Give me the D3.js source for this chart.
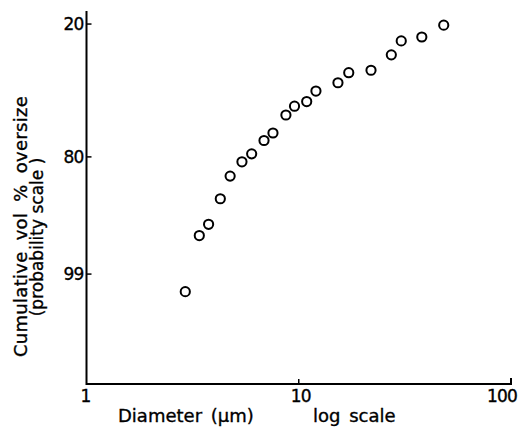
<!DOCTYPE html>
<html><head><meta charset="utf-8">
<script src="https://cdn.jsdelivr.net/npm/d3@7"></script>
<style>
html,body{margin:0;padding:0;background:#fff;}
svg text{font-family:"DejaVu Sans",sans-serif;fill:#000;stroke:#000;stroke-width:0.35px;}
</style></head>
<body><svg id="c" width="519" height="429"></svg>
<script>
// Data
const diameters = [48.2, 38.0, 30.4, 27.3, 21.9, 17.2, 15.3, 12.05, 10.9, 9.55, 8.7, 7.56, 6.86, 6.0, 5.4, 4.75, 4.27, 3.76, 3.40, 2.92];
const oversizePct = [20.4, 24.9, 26.5, 32.6, 39.9, 41.1, 46.1, 50.3, 55.6, 57.9, 62.2, 70.5, 73.7, 78.9, 81.7, 86.1, 91.5, 95.5, 96.7, 99.46];
const xTicks = [1, 10, 100];
const yTicks = [20, 80, 99];
const yDomainPct = [15.7, 99.99];

// inverse normal CDF (Acklam)
function probit(p){
  const a=[-3.969683028665376e+01,2.209460984245205e+02,-2.759285104469687e+02,1.383577518672690e+02,-3.066479806614716e+01,2.506628277459239e+00];
  const b=[-5.447609879822406e+01,1.615858368580409e+02,-1.556989798598866e+02,6.680131188771972e+01,-1.328068155288572e+01];
  const c=[-7.784894002430293e-03,-3.223964580411365e-01,-2.400758277161838e+00,-2.549732539343734e+00,4.374664141464968e+00,2.938163982698783e+00];
  const d=[7.784695709041462e-03,3.224671290700398e-01,2.445134137142996e+00,3.754408661907416e+00];
  const pl=0.02425, ph=1-pl; let q,r;
  if(p<pl){q=Math.sqrt(-2*Math.log(p));return (((((c[0]*q+c[1])*q+c[2])*q+c[3])*q+c[4])*q+c[5])/((((d[0]*q+d[1])*q+d[2])*q+d[3])*q+1);}
  if(p<=ph){q=p-0.5;r=q*q;return (((((a[0]*r+a[1])*r+a[2])*r+a[3])*r+a[4])*r+a[5])*q/(((((b[0]*r+b[1])*r+b[2])*r+b[3])*r+b[4])*r+1);}
  q=Math.sqrt(-2*Math.log(1-p));return -(((((c[0]*q+c[1])*q+c[2])*q+c[3])*q+c[4])*q+c[5])/((((d[0]*q+d[1])*q+d[2])*q+d[3])*q+1);
}

const svg = d3.select("#c");
const pL=86.5, pR=511, pT=11, pB=384;
const x = d3.scaleLog().domain([1,100]).range([pL,pR]);
const yz = d3.scaleLinear().domain(yDomainPct.map(p=>probit(p/100))).range([pT,pB]);
const y = p => yz(probit(p/100));

// axes lines
svg.append("path").attr("d",`M${pL},${pT}V${pB}H${pR}V${pB-6}`)
  .attr("fill","none").attr("stroke","#000").attr("stroke-width",2);

// y ticks
const yg = svg.append("g");
yTicks.forEach(t=>{
  yg.append("line").attr("x1",pL).attr("x2",pL+5).attr("y1",y(t)).attr("y2",y(t)).attr("stroke","#000").attr("stroke-width",1.5);
  yg.append("text").attr("x",pL-3).attr("y",y(t)).attr("dy","0.36em").attr("text-anchor","end").attr("font-size",17).attr("letter-spacing",-0.8).text(t);
});
// x ticks
const xg = svg.append("g");
xTicks.forEach((t,i)=>{
  if(i>0 && i<xTicks.length-1) xg.append("line").attr("x1",x(t)).attr("x2",x(t)).attr("y1",pB).attr("y2",pB-5).attr("stroke","#000").attr("stroke-width",1.5);
  xg.append("text").attr("x",x(t)+(i===xTicks.length-1?-9:(i===0?-1:2))).attr("y",pB+18).attr("text-anchor","middle").attr("font-size",17).attr("letter-spacing",-0.8).text(t);
});

// points
svg.append("g").selectAll("circle").data(diameters.map((d,i)=>[d,oversizePct[i]])).join("circle")
  .attr("cx",d=>x(d[0])).attr("cy",d=>y(d[1])).attr("r",4.6)
  .attr("fill","none").attr("stroke","#000").attr("stroke-width",2);

// labels
svg.append("text").attr("x",118).attr("y",422).attr("font-size",18).attr("word-spacing",3).text("Diameter (μm)");
svg.append("text").attr("x",313).attr("y",422).attr("font-size",18).attr("word-spacing",3).text("log scale");
svg.append("text").attr("transform","translate(27,226.5) rotate(-90)").attr("text-anchor","middle").attr("font-size",18).attr("word-spacing",5).attr("letter-spacing",0.3).text("Cumulative vol % oversize");
svg.append("text").attr("transform","translate(43,237) rotate(-90)").attr("text-anchor","middle").attr("font-size",17).text("(probability scale )");
</script></body></html>
